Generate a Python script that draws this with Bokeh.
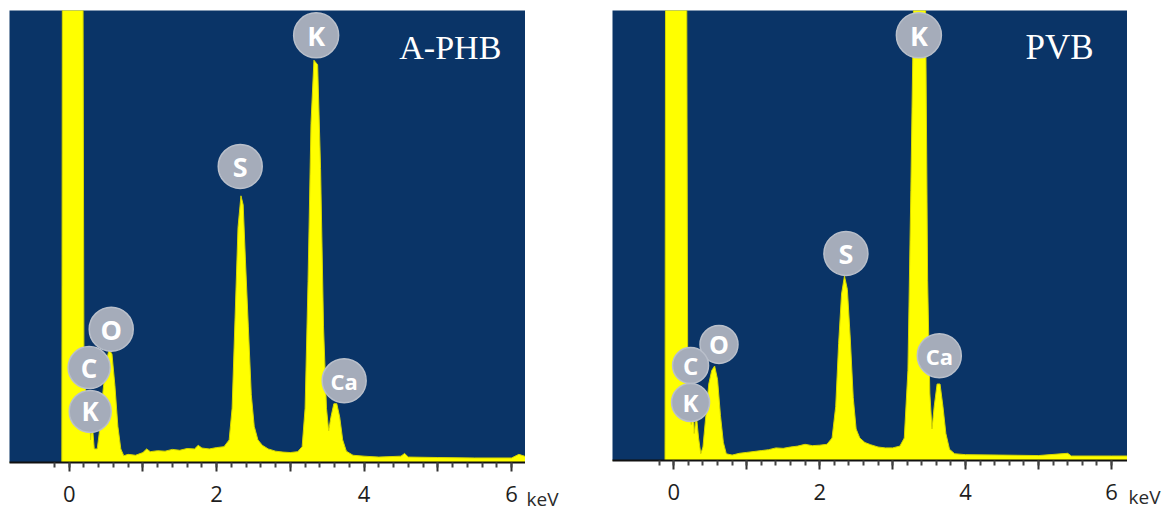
from bokeh.plotting import figure
from bokeh.layouts import row
from bokeh.models import Range1d, FixedTicker, Label, ColumnDataSource
from bokeh.core.properties import value
from bokeh.embed import file_html
from bokeh.resources import INLINE

# ---------------- data (counts in % of the visible full scale) ----------------
aphb_kev = [-0.85, -0.10, -0.09, 0.18, 0.20, 0.23, 0.25, 0.27, 0.29, 0.31, 0.34, 0.38,
            0.42, 0.46, 0.50, 0.54, 0.58, 0.62, 0.66, 0.70, 0.74, 0.80, 0.90, 1.00,
            1.05, 1.10, 1.20, 1.30, 1.40, 1.50, 1.60, 1.70, 1.75, 1.80, 1.90, 2.00,
            2.10, 2.17, 2.21, 2.25, 2.29, 2.33, 2.36, 2.39, 2.43, 2.47, 2.51, 2.56,
            2.62, 2.70, 2.80, 2.90, 3.00, 3.10, 3.16, 3.20, 3.24, 3.28, 3.32, 3.37,
            3.41, 3.45, 3.49, 3.52, 3.55, 3.59, 3.63, 3.67, 3.71, 3.76, 3.85, 4.00,
            4.20, 4.50, 4.55, 4.60, 5.00, 5.50, 6.00, 6.10, 6.25]
aphb_counts = [0, 0, 150, 150, 22, 14, 7, 15, 5, 9, 3, 3,
               8, 16, 22, 25, 24, 17, 8, 3, 1.5, 1.8, 1.6, 2.2,
               3.0, 2.4, 2.6, 2.5, 2.9, 2.7, 3.1, 3.0, 3.8, 3.2, 3.0, 3.3,
               3.5, 5, 12, 32, 52, 59, 57, 45, 30, 15, 8, 5,
               3.8, 3.0, 2.5, 2.3, 2.2, 2.4, 3.5, 12, 40, 75, 89, 88,
               65, 30, 12, 7, 10, 13, 13, 10, 5, 2.5, 1.6, 1.4,
               1.2, 1.4, 2.0, 1.2, 1.1, 1.0, 1.0, 1.8, 1.0]

pvb_kev = [-0.90, -0.12, -0.11, 0.17, 0.19, 0.22, 0.24, 0.26, 0.28, 0.31, 0.34, 0.37,
           0.40, 0.44, 0.48, 0.52, 0.56, 0.60, 0.64, 0.68, 0.72, 0.80, 0.90, 1.00,
           1.10, 1.20, 1.30, 1.40, 1.50, 1.60, 1.70, 1.80, 1.90, 2.00, 2.10, 2.17,
           2.22, 2.26, 2.30, 2.34, 2.38, 2.42, 2.46, 2.50, 2.55, 2.62, 2.70, 2.80,
           2.90, 3.00, 3.10, 3.16, 3.21, 3.25, 3.29, 3.45, 3.48, 3.51, 3.54, 3.57,
           3.61, 3.65, 3.69, 3.73, 3.78, 3.85, 4.00, 4.50, 5.00, 5.40, 5.45, 6.00, 6.25]
pvb_counts = [0, 0, 150, 150, 25, 15, 8, 16, 6, 10, 5, 1.5,
              3, 10, 17, 20, 21, 18, 10, 4, 1.5, 1.2, 1.6, 1.8,
              2.0, 2.2, 2.4, 2.8, 2.7, 3.0, 3.2, 3.6, 3.3, 3.4, 3.6, 5,
              12, 26, 37, 41, 38, 27, 14, 7, 5, 4, 3.5, 3.0,
              2.8, 2.8, 3.2, 5, 20, 60, 105, 105, 40, 15, 7, 12,
              17, 17, 12, 6, 2.5, 1.5, 1.3, 1.2, 1.1, 1.6, 1.0, 1.0, 1.0]

tick_values = [0, 1, 2, 3, 4, 5, 6]
tick_labels = ["0", "", "2", "", "4", "", "6"]
unit_label = "keV"

# element marker annotations: (label, keV, counts, diameter px, font px)
aphb_marks = [("K", 3.35, 94.5, 45, 27), ("S", 2.32, 65.5, 44, 27), ("O", 0.57, 29.5, 44, 27),
              ("C", 0.27, 21.0, 42, 26), ("K", 0.285, 11.3, 42, 26), ("Ca", 3.73, 18.1, 44, 22)]
pvb_marks = [("K", 3.36, 94.5, 45, 27), ("S", 2.36, 46.0, 44, 27), ("O", 0.62, 25.8, 38, 25),
             ("C", 0.23, 21.1, 36, 24), ("K", 0.23, 12.9, 38, 24), ("Ca", 3.64, 23.3, 44, 22)]

BG = "#0a3467"
YEL = "#ffff00"
CIRC = "#a5acba"
FIG_H = 508


def panel(kev, counts, marks, name, xr, name_xy, frame_w, frame_h, border_l, name_size):
    p = figure(frame_width=frame_w, frame_height=frame_h, output_backend="svg",
               toolbar_location=None, x_range=Range1d(*xr), y_range=Range1d(0, 100),
               y_axis_location=None, min_border_left=border_l, min_border_right=0,
               min_border_top=10, min_border_bottom=FIG_H - 10 - frame_h)
    p.background_fill_color = BG
    p.border_fill_color = "white"
    p.outline_line_color = None
    p.grid.visible = False

    src = ColumnDataSource(dict(x=kev, y=counts))
    p.varea(x="x", y1=0, y2="y", source=src, fill_color=YEL)
    p.line(x="x", y="y", source=src, line_color="#d6d600", line_width=1)

    ax = p.xaxis[0]
    ax.ticker = FixedTicker(ticks=tick_values,
                            minor_ticks=[round(-0.2 + 0.2 * i, 2) for i in range(32)])
    ax.major_label_overrides = {t: l for t, l in zip(tick_values, tick_labels)}
    ax.axis_line_color = "#111111"
    ax.axis_line_width = 2
    ax.major_tick_line_color = "#333333"
    ax.major_tick_line_width = 2
    ax.major_tick_in = 0
    ax.major_tick_out = 9
    ax.minor_tick_line_color = "#444444"
    ax.minor_tick_line_width = 2
    ax.minor_tick_in = 0
    ax.minor_tick_out = 5
    ax.major_label_standoff = 14
    ax.major_label_text_font = "Open Sans"
    ax.major_label_text_font_size = "22px"
    ax.major_label_text_color = "#1e1e1e"

    ms = ColumnDataSource(dict(t=[m[0] for m in marks], x=[m[1] for m in marks],
                               y=[m[2] for m in marks], d=[m[3] for m in marks],
                               fs=[f"{m[4]}px" for m in marks]))
    p.scatter(x="x", y="y", size="d", source=ms, fill_color=CIRC,
              line_color="#b9bfca", line_width=1.5)
    p.text(x="x", y="y", text="t", source=ms, text_color="white",
           text_font=value("Open Sans"), text_font_style="bold", text_font_size="fs",
           text_align="center", text_baseline="middle")

    p.add_layout(Label(x=name_xy[0], y=name_xy[1], text=name, text_color="white",
                       text_font="Liberation Serif", text_font_size=name_size,
                       text_align="center", text_baseline="middle"))
    return p


def unit_strip(width, center, frame_h):
    # narrow white strip to the right of a panel; its own bottom axis carries the unit
    s = figure(frame_width=width, frame_height=frame_h, output_backend="svg",
               toolbar_location=None, x_range=Range1d(0, width), y_range=Range1d(0, 1),
               y_axis_location=None, min_border_left=0, min_border_right=0,
               min_border_top=10, min_border_bottom=FIG_H - 10 - frame_h)
    s.background_fill_color = "white"
    s.border_fill_color = "white"
    s.outline_line_color = None
    s.grid.visible = False
    ax = s.xaxis[0]
    ax.ticker = FixedTicker(ticks=[center], minor_ticks=[])
    ax.major_label_overrides = {center: unit_label}
    ax.axis_line_color = None
    ax.major_tick_line_color = None
    ax.minor_tick_line_color = None
    ax.major_tick_in = 0
    ax.major_tick_out = 0
    ax.major_label_standoff = 23
    ax.major_label_text_font = "Open Sans"
    ax.major_label_text_font_size = "19px"
    ax.major_label_text_color = "#2a2a2a"
    return s


p1 = panel(aphb_kev, aphb_counts, aphb_marks, "A-PHB", (-0.81, 6.19), (5.17, 91.8),
           516, 452, 9, "34px")
k1 = unit_strip(87, 15, 452)
p2 = panel(pvb_kev, pvb_counts, pvb_marks, "PVB", (-0.84, 6.22), (5.29, 91.8),
           515, 450, 0, "35px")
k2 = unit_strip(36, 17, 450)

layout = row(p1, k1, p2, k2)
open("out.html", "w").write(file_html(layout, INLINE))
